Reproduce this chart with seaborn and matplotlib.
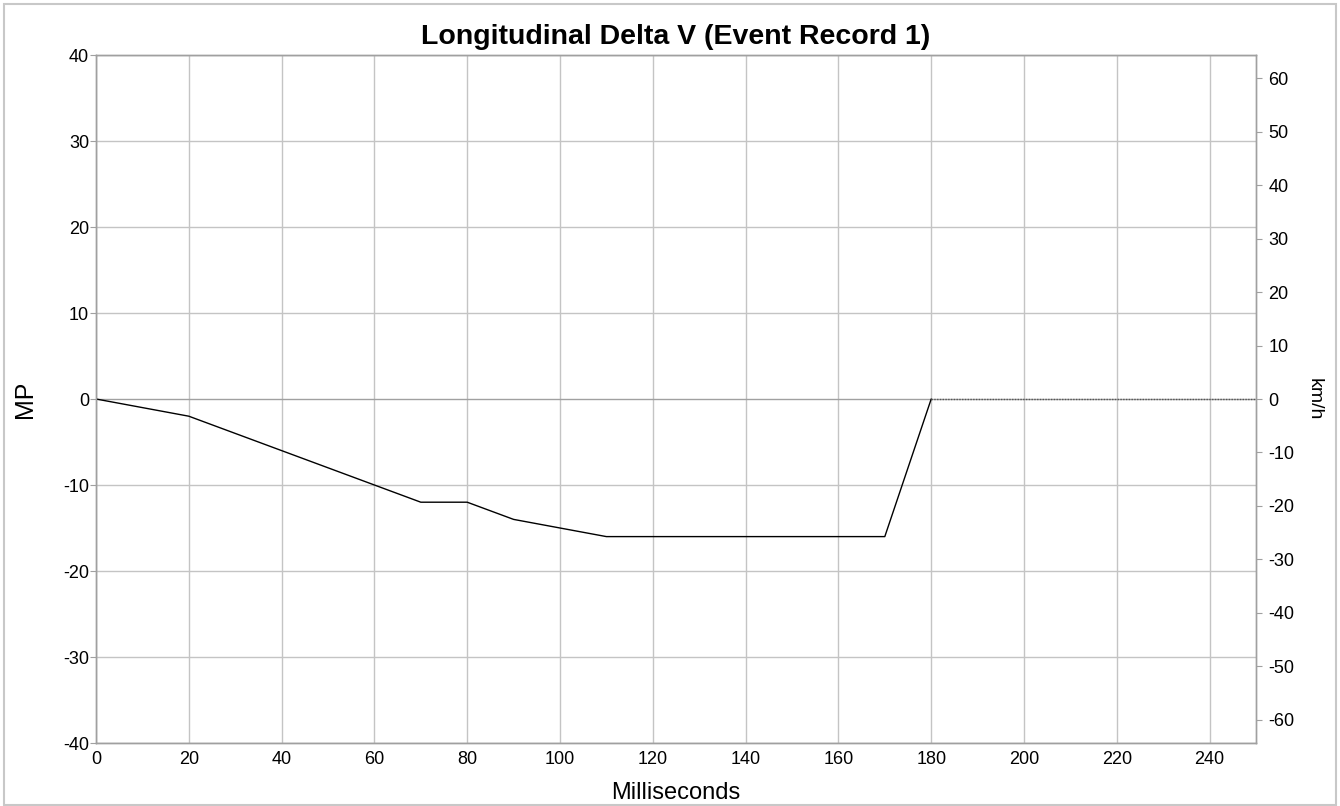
import matplotlib
matplotlib.use("Agg")
import matplotlib.pyplot as plt
import seaborn as sns
import pandas as pd
import numpy as np
from matplotlib.patches import Rectangle

# Data (milliseconds vs delta V in MPH)
time_ms = [0, 10, 20, 30, 40, 50, 60, 70, 80, 90, 100, 110, 120, 130, 140, 150, 160, 170, 180]
delta_v_mph = [0, -1, -2, -4, -6, -8, -10, -12, -12, -14, -15, -16, -16, -16, -16, -16, -16, -16, 0]
tail_ms = [180, 250]
tail_mph = [0, 0]

x_ticks = list(range(0, 241, 20))
y_ticks_mph = list(range(-40, 41, 10))
y_ticks_kmh = list(range(-60, 61, 10))
KMH_PER_MPH = 1.609344

sns.set_theme(style="white")
plt.rcParams['font.family'] = ['Liberation Sans', 'DejaVu Sans']
plt.rcParams['axes.unicode_minus'] = False
plt.rcParams['text.color'] = 'black'
plt.rcParams['axes.labelcolor'] = 'black'

fig = plt.figure(figsize=(13.4, 8.06), dpi=100)
ax = fig.add_axes([96/1340, 1-743/806, (1256-96)/1340, (743-55)/806])

df = pd.DataFrame({"ms": time_ms, "mph": delta_v_mph})
df_tail = pd.DataFrame({"ms": tail_ms, "mph": tail_mph})

grid_c = "#c4c4c4"
for xv in x_ticks:
    ax.axvline(xv, color=grid_c, lw=1.0, zorder=0)
for yv in y_ticks_mph:
    ax.axhline(yv, color="#a0a0a0" if yv == 0 else grid_c, lw=1.0, zorder=0)

sns.lineplot(data=df, x="ms", y="mph", ax=ax, color="black", lw=1.0, zorder=3)
sns.lineplot(data=df_tail, x="ms", y="mph", ax=ax, color="#555555", lw=1.0,
             linestyle=(0, (1, 1)), zorder=3)

ax.set_xlim(0, 250)
ax.set_ylim(-40, 40)
ax.set_xticks(x_ticks)
ax.set_yticks(y_ticks_mph)
ax.tick_params(axis="x", length=0, pad=6, labelsize=13, colors="black")
ax.tick_params(axis="y", length=4, width=0.8, color="#a0a0a0", pad=1, labelsize=13,
               labelcolor="black", left=True)
for s in ax.spines.values():
    s.set_color("#a0a0a0")
    s.set_linewidth(1.0)
ax.set_xlabel("Milliseconds", fontsize=17, labelpad=10, color="black")
ax.set_ylabel("MP", fontsize=18, labelpad=19, color="black")
ax.set_title("Longitudinal Delta V (Event Record 1)", fontsize=20.5, fontweight="bold",
             pad=8, color="black")

ax2 = ax.twinx()
ax2.set_ylim(-40 * KMH_PER_MPH, 40 * KMH_PER_MPH)
ax2.set_yticks(y_ticks_kmh)
ax2.tick_params(axis="y", length=4, width=0.8, color="#a0a0a0", pad=5, labelsize=13,
                labelcolor="black", right=True)
for s in ax2.spines.values():
    s.set_color("#a0a0a0")
    s.set_linewidth(1.0)
ax2.set_ylabel("km/h", fontsize=14, rotation=-90, labelpad=20, color="black")
ax2.grid(False)

fig.patches.append(Rectangle((4/1340, 1/806), 1332/1340, 801/806, transform=fig.transFigure,
                             fill=False, edgecolor="#c8c8c8", lw=1.5))

fig.savefig("out.png", dpi=100)
